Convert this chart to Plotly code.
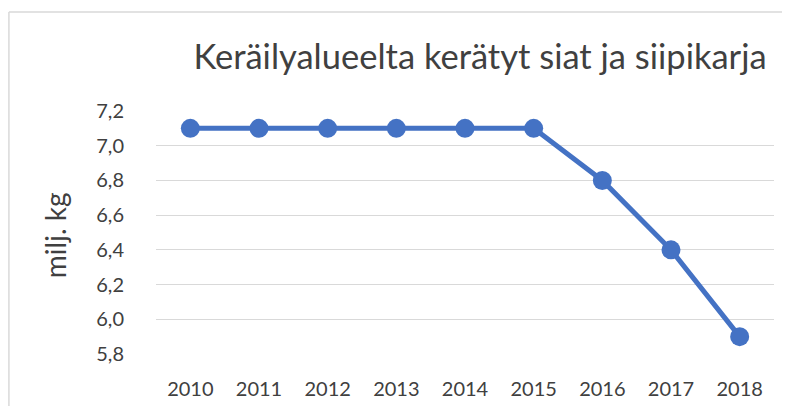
import plotly.graph_objects as go

years = ["2010", "2011", "2012", "2013", "2014", "2015", "2016", "2017", "2018"]
values = [7.1, 7.1, 7.1, 7.1, 7.1, 7.1, 6.8, 6.4, 5.9]
y_ticks = [5.8, 6.0, 6.2, 6.4, 6.6, 6.8, 7.0, 7.2]

title_text = "Keräilyalueelta kerätyt siat ja siipikarja"
y_title = "milj. kg"

blue = "#4472C4"
font = "Lato, 'Open Sans', sans-serif"
clear = "rgba(0,0,0,0)"

fig = go.Figure(go.Scatter(
	x=years,
	y=values,
	mode="lines+markers",
	line=dict(color=blue, width=5),
	marker=dict(color=blue, size=19),
))

# page body has an 8px margin, so the figure is sized to fit what is left
fig.update_layout(
	width=782, height=398,
	margin=dict(l=148, r=16, t=103, b=52),
	paper_bgcolor="white",
	plot_bgcolor="white",
	separators=", ",
	showlegend=False,
	font=dict(family=font, color="#404040", size=20),
	title=dict(text=title_text, x=0.6036, xanchor="center", y=0.877, yanchor="middle",
			   font=dict(size=34.5, color="#404040", family=font)),
	xaxis=dict(type="category", range=[-0.5, 8.5], showgrid=False, showline=False,
			   ticks="outside", ticklen=17, tickcolor=clear,
			   tickfont=dict(size=20), automargin=False),
	yaxis=dict(range=[5.8, 7.2], tickvals=y_ticks, tickformat=".1f", showgrid=True,
			   gridcolor="#d9d9d9", gridwidth=1.3, zeroline=False, showline=False,
			   ticks="outside", ticklen=27, tickcolor=clear,
			   tickfont=dict(size=20), automargin=False),
	annotations=[dict(text=y_title, xref="paper", yref="paper", x=-0.163, y=0.49,
					  xanchor="center", yanchor="middle", textangle=-90,
					  showarrow=False, font=dict(size=28, color="#404040"))],
	shapes=[dict(type="line", xref="paper", yref="paper",
				 x0=-0.238, x1=1.1, y0=1.407, y1=1.407,
				 line=dict(color="#d9d9d9", width=1.5)),
			dict(type="line", xref="paper", yref="paper",
				 x0=-0.238, x1=-0.238, y0=1.407, y1=-0.3,
				 line=dict(color="#d9d9d9", width=1.5))],
)

fig.write_html("out.html")
